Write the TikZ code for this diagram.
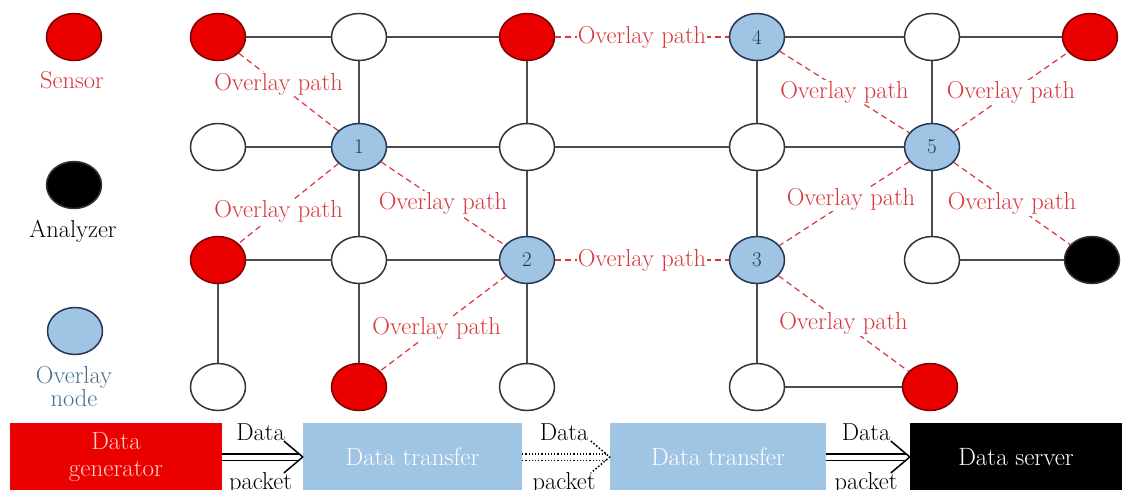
\documentclass[tikz,border=0pt]{standalone}
\usepackage{fontspec}
\usepackage{tikz}
\usetikzlibrary{shapes.geometric}
\definecolor{sensorred}{RGB}{235,0,0}
\definecolor{ovblue}{RGB}{160,196,228}
\definecolor{pathred}{RGB}{215,55,60}
\definecolor{gridgray}{RGB}{75,75,75}
\definecolor{numblue}{RGB}{35,55,85}
\definecolor{legendblue}{RGB}{70,110,140}
\definecolor{pinkish}{RGB}{255,205,200}

\begin{document}
\begin{tikzpicture}[x=1pt, y=-1pt, line join=round,
    font=\fontsize{24.5}{26}\selectfont,
    vertex/.style={ellipse, minimum width=55pt, minimum height=47pt, inner sep=0pt,
                   draw=black!80, line width=1.5pt},
    sensor/.style={vertex, fill=sensorred, draw=red!50!black},
    relay/.style={vertex, fill=white},
    analyzer/.style={vertex, fill=black},
    ovnode/.style={vertex, fill=ovblue, draw=numblue, text=numblue,
                   font=\fontsize{21}{22}\selectfont},
    link/.style={gridgray, line width=1.8pt},
    ovpath/.style={pathred, line width=1.2pt, dash pattern=on 6pt off 4pt},
    ovlabel/.style={fill=white, text=pathred, inner sep=1pt},
    block/.style={minimum height=68pt, inner sep=0pt, align=center, text=white,
                  font=\fontsize{25}{27}\selectfont},
    packet/.style={double, double distance=5pt, line width=1.2pt},
    chevron/.style={line width=1.5pt}]

    \useasboundingbox (0,0) rectangle (1122,490);
    \clip (0,0) rectangle (1122,490);

    % Legend
    \node[sensor]   (lgsensor)   at (74,37)  {};
    \node[text=pathred] (lgsensortxt) at (72,80) {Sensor};
    \node[analyzer] (lganalyzer) at (74,185) {};
    \node (lganalyzertxt) at (73,231) {Analyzer};
    \node[ovnode]   (lgov)       at (75,331) {};
    \node[text=legendblue, align=center, font=\fontsize{24.5}{23}\selectfont]
        (lgovtxt) at (74,387) {Overlay\\node};

    % Row 1 (y=37)
    \node[sensor] (s11) at (218,37)  {};
    \node[relay]  (r12) at (359,37)  {};
    \node[sensor] (s13) at (527,37)  {};
    \node[ovnode] (o4)  at (757,37)  {4};
    \node[relay]  (r15) at (932,37)  {};
    \node[sensor] (s16) at (1090,37) {};
    % Row 2 (y=147)
    \node[relay]  (r21) at (218,147) {};
    \node[ovnode] (o1)  at (359,147) {1};
    \node[relay]  (r23) at (527,147) {};
    \node[relay]  (r24) at (757,147) {};
    \node[ovnode] (o5)  at (932,147) {5};
    % Row 3 (y=260)
    \node[sensor]   (s31) at (218,260)  {};
    \node[relay]    (r32) at (359,260)  {};
    \node[ovnode]   (o2)  at (527,260)  {2};
    \node[ovnode]   (o3)  at (757,260)  {3};
    \node[relay]    (r35) at (932,260)  {};
    \node[analyzer] (a36) at (1092,260) {};
    % Row 4 (y=387)
    \node[relay]  (r41) at (218,387) {};
    \node[sensor] (s42) at (359,387) {};
    \node[relay]  (r43) at (527,387) {};
    \node[relay]  (r44) at (757,387) {};
    \node[sensor] (s45) at (930,387) {};

    % Physical links
    \draw[link] (s11) -- (r12) -- (s13);
    \draw[link] (o4) -- (r15) -- (s16);
    \draw[link] (r21) -- (o1) -- (r23) -- (r24) -- (o5);
    \draw[link] (s31) -- (r32) -- (o2);
    \draw[link] (r35) -- (a36);
    \draw[link] (r44) -- (s45);
    \draw[link] (r12) -- (o1) -- (r32) -- (s42);
    \draw[link] (s13) -- (r23) -- (o2) -- (r43);
    \draw[link] (o4) -- (r24) -- (o3) -- (r44);
    \draw[link] (r15) -- (o5) -- (r35);
    \draw[link] (s31) -- (r41);

    % Overlay paths
    \draw[ovpath] (s11) -- node[ovlabel, pos=0.4] {Overlay path} (o1);
    \draw[ovpath] (o1) -- node[ovlabel, pos=0.6] {Overlay path} (s31);
    \draw[ovpath] (o1) -- node[ovlabel] {Overlay path} (o2);
    \draw[ovpath] (o2) -- node[ovlabel, pos=0.55] {Overlay path} (s42);
    \draw[ovpath] (s13) -- node[ovlabel] {Overlay path} (o4);
    \draw[ovpath] (o2) -- node[ovlabel] {Overlay path} (o3);
    \draw[ovpath] (o4) -- node[ovlabel] {Overlay path} (o5);
    \draw[ovpath] (o5) -- node[ovlabel] {Overlay path} (s16);
    \draw[ovpath] (o5) -- node[ovlabel, pos=0.45] {Overlay path} (o3);
    \draw[ovpath] (o5) -- node[ovlabel] {Overlay path} (a36);
    \draw[ovpath] (o3) -- node[ovlabel] {Overlay path} (s45);

    % Data flow
    \node[block, fill=sensorred, text=pinkish, minimum width=212pt] (gen) at (116,457) {Data\\generator};
    \node[block, fill=ovblue, minimum width=219pt] (tr1) at (412.5,457) {Data transfer};
    \node[block, fill=ovblue, minimum width=216pt] (tr2) at (718,457) {Data transfer};
    \node[block, fill=black, minimum width=212pt] (srv) at (1016,457) {Data server};

    \draw[packet] (gen) -- node[above=12pt] {Data} node[below=12pt] {packet} ([xshift=-4pt]tr1.west);
    \draw[chevron] ([shift={(-19,-16)}]tr1.west) -- (tr1.west) -- ([shift={(-19,16)}]tr1.west);
    \draw[packet, dotted] (tr1) -- node[above=12pt] {Data} node[below=12pt] {packet} ([xshift=-4pt]tr2.west);
    \draw[chevron, dotted] ([shift={(-19,-16)}]tr2.west) -- (tr2.west) -- ([shift={(-19,16)}]tr2.west);
    \draw[packet] (tr2) -- node[above=12pt] {Data} node[below=12pt] {packet} ([xshift=-4pt]srv.west);
    \draw[chevron] ([shift={(-19,-16)}]srv.west) -- (srv.west) -- ([shift={(-19,16)}]srv.west);

\end{tikzpicture}
\end{document}
